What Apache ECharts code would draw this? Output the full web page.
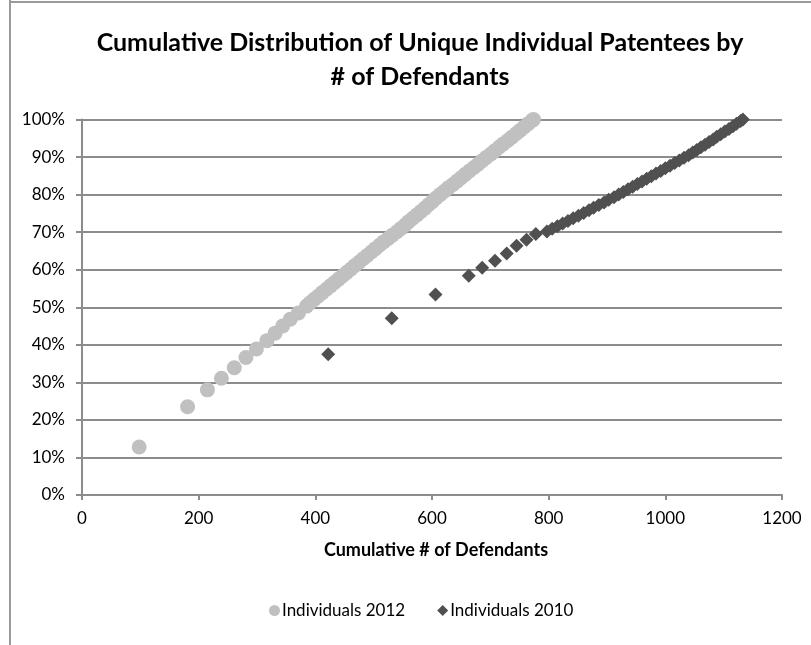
<!DOCTYPE html>
<html>
<head>
<meta charset="utf-8">
<script src="https://cdn.jsdelivr.net/npm/echarts@6/dist/echarts.min.js"></script>
<style>
html,body{margin:0;padding:0;background:#fff;}
#chart{width:811px;height:645px;}
</style>
</head>
<body>
<div id="chart"></div>
<script>
// ---- Data ----
var titleLines = ['Cumulative Distribution of Unique Individual Patentees by', '# of Defendants'];
var xAxisName = 'Cumulative # of Defendants';
var seriesNames = ['Individuals 2012', 'Individuals 2010'];

// Individuals 2012: cumulative # of defendants / cumulative % of patentees
var x2012 = [98, 181, 215, 239, 261, 281, 299, 317, 331, 344, 357, 371, 385,
  391, 398, 405, 412, 419, 426, 433, 440, 447, 454, 461, 468, 475, 482, 489, 496,
  503, 510, 517, 525, 532, 540, 547, 554, 560, 567, 574, 581, 588, 594, 601, 607,
  614, 621, 628, 636, 643, 650, 657, 664, 672, 679, 686, 693, 701, 708, 715, 722,
  730, 737, 744, 751, 758, 765, 772, 774];
var y2012 = [12.8, 23.5, 28.0, 31.1, 33.9, 36.6, 38.9, 41.1, 43.1, 45.0, 46.8, 48.5, 50.3,
  51.2, 52.1, 53.0, 53.9, 54.8, 55.7, 56.6, 57.5, 58.4, 59.3, 60.2, 61.1, 62.0, 62.9, 63.8, 64.7,
  65.6, 66.5, 67.4, 68.3, 69.2, 70.1, 71.0, 71.9, 72.8, 73.7, 74.6, 75.5, 76.4, 77.3, 78.2, 79.1,
  80.0, 80.9, 81.8, 82.7, 83.6, 84.5, 85.4, 86.3, 87.2, 88.1, 89.0, 89.9, 90.8, 91.7, 92.6, 93.5,
  94.4, 95.3, 96.2, 97.1, 98.0, 98.9, 99.8, 100.0];

// Individuals 2010
var x2010 = [422, 531, 606, 663, 686, 708, 728, 745, 762, 778,
  797, 806, 815, 824, 833, 842, 851, 860, 869, 877, 886, 895, 903, 912, 920,
  928, 936, 944, 952, 960, 968, 976, 984, 992, 1000, 1008, 1016, 1024, 1032, 1040,
  1047, 1054, 1061, 1068, 1075, 1082, 1088, 1095, 1102, 1109, 1116, 1122, 1129, 1133];
var y2010 = [37.5, 47.1, 53.4, 58.4, 60.5, 62.4, 64.3, 66.4, 68.0, 69.5,
  70.2, 70.9, 71.6, 72.3, 73.0, 73.7, 74.4, 75.1, 75.8, 76.5, 77.2, 77.9, 78.6, 79.3, 80.0,
  80.7, 81.4, 82.1, 82.8, 83.5, 84.2, 84.9, 85.6, 86.3, 87.0, 87.7, 88.4, 89.1, 89.8, 90.5,
  91.2, 91.9, 92.6, 93.3, 94.0, 94.7, 95.4, 96.1, 96.8, 97.5, 98.2, 98.9, 99.6, 100.0];

// Axis settings
var xMin = 0, xMax = 1200, xStep = 200;
var yMin = 0, yMax = 100, yStep = 10;

function pairs(xs, ys) {
  var out = [];
  for (var i = 0; i < xs.length; i++) out.push([xs[i], ys[i]]);
  return out;
}

var FONT = "Lato, 'Noto Sans', sans-serif";
var GRID_COLOR = '#8c8c8c';

var chart = echarts.init(document.getElementById('chart'), null, {renderer: 'canvas'});
chart.setOption({
  backgroundColor: '#ffffff',
  animation: false,
  title: {
    text: titleLines.join('\n'),
    left: 415,
    top: 21,
    textAlign: 'center',
    textStyle: {fontFamily: FONT, fontWeight: 'bold', fontSize: 25, color: '#000', lineHeight: 34}
  },
  legend: {
    data: [
      {name: seriesNames[0], icon: 'circle'},
      {name: seriesNames[1], icon: 'diamond'}
    ],
    left: 264,
    top: 597,
    itemWidth: 11,
    itemHeight: 11,
    itemGap: 32,
    textStyle: {fontFamily: FONT, fontSize: 17, color: '#000', padding: [0, 0, 0, -3]}
  },
  grid: {left: 82, right: 29, top: 119.5, bottom: 150, containLabel: false},
  xAxis: {
    type: 'value',
    min: xMin, max: xMax, interval: xStep,
    name: xAxisName,
    nameLocation: 'middle',
    nameGap: 46,
    nameTextStyle: {fontFamily: FONT, fontWeight: 'bold', fontSize: 18, color: '#000', padding: [0, 0, 0, 8]},
    axisLine: {show: true, onZero: false, lineStyle: {color: GRID_COLOR, width: 2}},
    axisTick: {show: true, inside: false, length: 5, lineStyle: {color: GRID_COLOR, width: 2}},
    axisLabel: {fontFamily: FONT, fontSize: 17, color: '#000', margin: 15,
      formatter: function (v) { return String(v); }},
    splitLine: {show: false}
  },
  yAxis: {
    type: 'value',
    min: yMin, max: yMax, interval: yStep,
    axisLine: {show: true, lineStyle: {color: GRID_COLOR, width: 2}},
    axisTick: {show: true, inside: false, length: 6, lineStyle: {color: GRID_COLOR, width: 2}},
    axisLabel: {fontFamily: FONT, fontSize: 17, color: '#000', margin: 17, formatter: '{value}%'},
    splitLine: {show: true, lineStyle: {color: GRID_COLOR, width: 2}}
  },
  graphic: [
    {type: 'line', shape: {x1: 10, y1: 0, x2: 10, y2: 645}, style: {stroke: '#9a9a9a', lineWidth: 2}},
    {type: 'line', shape: {x1: 10, y1: 2, x2: 811, y2: 2}, style: {stroke: '#9a9a9a', lineWidth: 2}}
  ],
  series: [
    {
      name: seriesNames[0],
      type: 'scatter',
      symbol: 'circle',
      symbolSize: 15,
      itemStyle: {color: '#c0c0c0', opacity: 1},
      data: pairs(x2012, y2012),
      z: 3
    },
    {
      name: seriesNames[1],
      type: 'scatter',
      symbol: 'diamond',
      symbolSize: 14,
      itemStyle: {color: '#505050', opacity: 1},
      data: pairs(x2010, y2010),
      z: 4
    }
  ]
});
</script>
</body>
</html>
